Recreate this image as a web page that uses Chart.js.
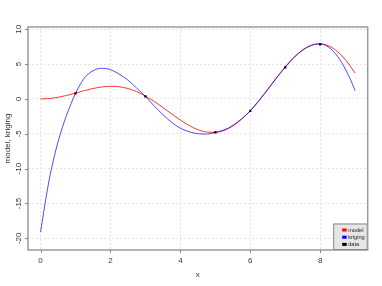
<!DOCTYPE html>
<html>
<head>
<meta charset="utf-8">
<script src="https://cdn.jsdelivr.net/npm/chart.js@4/dist/chart.umd.min.js"></script>
<style>
  html, body { margin: 0; padding: 0; background: #fff; }
</style>
</head>
<body>
<canvas id="plot" width="382" height="286"></canvas>
<script>
// sample positions along x (model)
const xGrid = [0, 0.25, 0.5, 0.75, 1, 1.25, 1.5, 1.75, 2, 2.25, 2.5, 2.75, 3, 3.25, 3.5, 3.75, 4, 4.25, 4.5,
  4.75, 5, 5.25, 5.5, 5.75, 6, 6.25, 6.5, 6.75, 7, 7.25, 7.5, 7.75, 8, 8.25, 8.5, 8.75, 9];

// red curve (model)
const modelY = [0, 0.06, 0.24, 0.51, 0.84, 1.19, 1.5, 1.72, 1.82, 1.75, 1.5, 1.05, 0.42, -0.35, -1.23, -2.14,
  -3.03, -3.8, -4.4, -4.75, -4.79, -4.51, -3.88, -2.92, -1.68, -0.21, 1.4, 3.04, 4.6, 5.97, 7.04, 7.71,
  7.92, 7.61, 6.79, 5.46, 3.71];

// blue curve (kriging), denser near the steep start and the drop at the end
const krigingX = [0, 0.125, 0.25, 0.375, 0.5, 0.625, 0.75, 0.875, 1, 1.125, 1.25, 1.5, 1.75, 2, 2.25, 2.5,
  2.75, 3, 3.25, 3.5, 3.75, 4, 4.25, 4.5, 4.75, 5, 5.25, 5.5, 5.75, 6, 6.25, 6.5, 6.75, 7, 7.25, 7.5, 7.75,
  8, 8.25, 8.5, 8.625, 8.75, 8.875, 9];
const krigingY = [-19.1, -15.1, -11.5, -8.6, -6.15, -4.05, -2.25, -0.65, 0.8, 2.0, 3.0, 4.05, 4.4, 4.2,
  3.55, 2.7, 1.55, 0.35, -1.0, -2.25, -3.35, -4.2, -4.7, -4.98, -5.05, -4.78, -4.45, -3.8, -2.85, -1.72,
  -0.25, 1.35, 3.0, 4.55, 5.95, 7.0, 7.7, 7.9, 7.4, 6.1, 5.15, 4.0, 2.7, 1.2];

// observed points
const dataX = [1, 3, 5, 6, 7, 8];
const dataY = [0.8, 0.38, -4.78, -1.72, 4.55, 7.85];

const xTicks = [0, 2, 4, 6, 8];
const yTicks = [-20, -15, -10, -5, 0, 5, 10];
const seriesNames = ['model', 'kriging', 'data'];
const seriesColors = ['rgba(255,0,0,0.8)', 'rgba(0,0,255,0.7)', '#000'];

const toPts = (xs, ys) => xs.map((x, i) => ({ x: x, y: ys[i] }));

const FONT = '"Liberation Sans", Arial, sans-serif';

// R-like frame, ticks, labels and legend
const rDecor = {
  id: 'rDecor',
  afterDraw(chart) {
    const { ctx, chartArea: a, scales } = chart;
    const sx = scales.x, sy = scales.y;
    ctx.save();

    // frame
    ctx.strokeStyle = '#9a9a9a';
    ctx.lineWidth = 1.5;
    ctx.strokeRect(a.left, a.top, a.right - a.left, a.bottom - a.top);

    // tick marks
    ctx.strokeStyle = '#888';
    ctx.lineWidth = 1;
    ctx.beginPath();
    xTicks.forEach(v => {
      const px = Math.round(sx.getPixelForValue(v)) + 0.5;
      ctx.moveTo(px, a.bottom);
      ctx.lineTo(px, a.bottom + 3);
    });
    yTicks.forEach(v => {
      const py = Math.round(sy.getPixelForValue(v)) + 0.5;
      ctx.moveTo(a.left, py);
      ctx.lineTo(a.left - 3, py);
    });
    ctx.stroke();

    // tick labels
    ctx.fillStyle = '#333';
    ctx.font = '8px ' + FONT;
    ctx.textAlign = 'center';
    ctx.textBaseline = 'middle';
    xTicks.forEach(v => {
      ctx.fillText(String(v), sx.getPixelForValue(v), a.bottom + 10.5);
    });
    yTicks.forEach(v => {
      ctx.save();
      ctx.translate(18.3, sy.getPixelForValue(v));
      ctx.rotate(-Math.PI / 2);
      ctx.fillText(String(v), 0, 0);
      ctx.restore();
    });

    // axis titles
    ctx.fillText('x', (a.left + a.right) / 2, a.bottom + 24.5);
    ctx.save();
    ctx.translate(7.5, (a.top + a.bottom) / 2);
    ctx.rotate(-Math.PI / 2);
    ctx.fillText('model, kriging', 0, 0);
    ctx.restore();

    // legend box, bottom right
    const lw = 34.5, lh = 26.5;
    const lx = a.right - lw, ly = a.bottom - lh;
    ctx.fillStyle = '#e6e6e6';
    ctx.fillRect(lx, ly, lw, lh);
    ctx.strokeStyle = '#888';
    ctx.lineWidth = 1;
    ctx.strokeRect(lx + 0.5, ly + 0.5, lw - 1, lh - 1);

    ctx.font = '5.6px ' + FONT;
    ctx.textAlign = 'left';
    const legendColors = ['#ff0000', '#0000ff', '#000'];
    seriesNames.forEach((name, i) => {
      const cy = ly + 6.5 + i * 7.2;
      ctx.fillStyle = legendColors[i];
      ctx.fillRect(lx + 9, cy - 1.5, 4.5, 3);
      ctx.fillStyle = '#222';
      ctx.fillText(name, lx + 15, cy + 0.3);
    });

    ctx.restore();
  }
};

new Chart(document.getElementById('plot'), {
  type: 'scatter',
  data: {
    datasets: [
      {
        label: seriesNames[0],
        data: toPts(xGrid, modelY),
        showLine: true,
        borderColor: seriesColors[0],
        borderWidth: 1,
        pointRadius: 0,
        cubicInterpolationMode: 'monotone',
        order: 2
      },
      {
        label: seriesNames[1],
        data: toPts(krigingX, krigingY),
        showLine: true,
        borderColor: seriesColors[1],
        borderWidth: 1,
        pointRadius: 0,
        cubicInterpolationMode: 'monotone',
        order: 1
      },
      {
        label: seriesNames[2],
        data: toPts(dataX, dataY),
        showLine: false,
        pointStyle: 'rect',
        pointRadius: 1.6,
        backgroundColor: seriesColors[2],
        borderColor: seriesColors[2],
        borderWidth: 0,
        order: 0
      }
    ]
  },
  options: {
    responsive: false,
    animation: false,
    devicePixelRatio: 1,
    layout: { padding: { left: 0, top: 27, right: 14.3, bottom: 0 } },
    plugins: {
      legend: { display: false },
      tooltip: { enabled: false }
    },
    scales: {
      x: {
        type: 'linear',
        min: -0.36,
        max: 9.36,
        afterBuildTicks(s) { s.ticks = xTicks.map(v => ({ value: v })); },
        afterFit(s) { s.height = 36; },
        ticks: { display: false },
        grid: { color: '#e4e4e4', lineWidth: 1, drawTicks: false },
        border: { display: false, dash: [2, 2] }
      },
      y: {
        type: 'linear',
        min: -21.68,
        max: 10.33,
        afterBuildTicks(s) { s.ticks = yTicks.map(v => ({ value: v })); },
        afterFit(s) { s.width = 28; },
        ticks: { display: false },
        grid: { color: '#e4e4e4', lineWidth: 1, drawTicks: false },
        border: { display: false, dash: [2, 2] }
      }
    }
  },
  plugins: [rDecor]
});
</script>
</body>
</html>
